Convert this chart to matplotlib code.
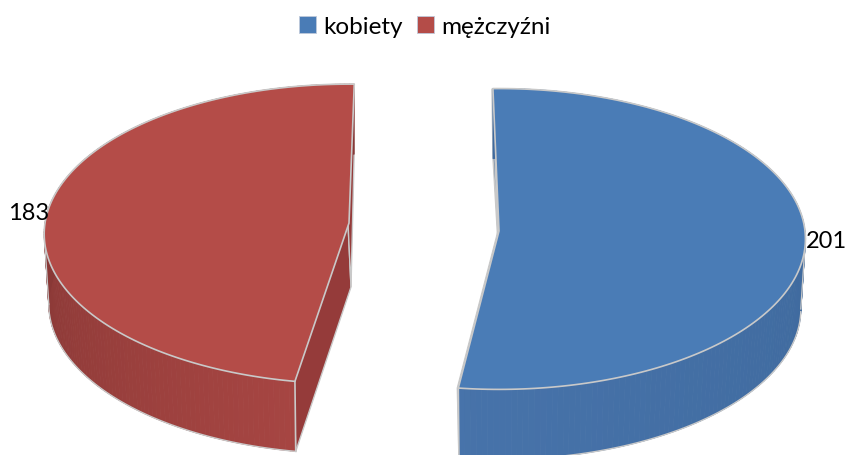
import numpy as np
import matplotlib
matplotlib.use("Agg")
import matplotlib.pyplot as plt
from matplotlib.collections import PolyCollection
from matplotlib.colors import to_rgb
from matplotlib.patches import Patch

categories = ["kobiety", "mężczyźni"]
values = [201, 183]

TOP = {"kobiety": "#4A7CB6", "mężczyźni": "#B44C48"}
WALL_A = {"kobiety": "#3F6A9E", "mężczyźni": "#A64542"}
WALL_B = {"kobiety": "#4773AA", "mężczyźni": "#893836"}
INNER = {"kobiety": "#3C6595", "mężczyźni": "#953B3A"}
CENTER = {"kobiety": (499, 232), "mężczyźni": (349, 224)}
RX = {"kobiety": 306, "mężczyźni": 304}
RY = {"kobiety": 150, "mężczyźni": 149}
PERSP = {"kobiety": 0.053, "mężczyźni": 0.073}
START = {"kobiety": -1.2, "mężczyźni": 189.5}
DEPTH = 70
APEX_DEPTH = 64
BASE_SCALE = 0.985
EDGE = "#C9C9C9"

fig = plt.figure(figsize=(8.5, 4.56), dpi=100)
ax = fig.add_axes([0, 0, 1, 1])
ax.set_xlim(0, 850)
ax.set_ylim(456, 0)
ax.axis("off")


def rim(name, th, depth=0.0, scale=1.0):
    cx, cy = CENTER[name]
    t = np.radians(th)
    w = 1 + PERSP[name] * np.cos(t)
    return (cx + scale * RX[name] * np.sin(t) / w,
            cy + depth - RY[name] * np.cos(t) / w)


total = sum(values)
for name, val in zip(categories, values):
    a0 = START[name]
    a1 = a0 + 360 * val / total
    th = np.linspace(a0, a1, 181)
    cx, cy = CENTER[name]

    tx, ty = rim(name, th)
    bx, by = rim(name, th, DEPTH, BASE_SCALE)

    # inner cut walls
    for a in (a0, a1):
        rx0, ry0 = rim(name, a)
        rx1, ry1 = rim(name, a, DEPTH, BASE_SCALE)
        ax.fill([cx - 1, rx0 - 1, rx1, cx + 2], [cy, ry0, ry1, cy + APEX_DEPTH],
                facecolor=INNER[name], edgecolor=EDGE, lw=1.0, zorder=2)

    # outer wall as shaded strips
    quads, cols = [], []
    ca, cb = np.array(to_rgb(WALL_A[name])), np.array(to_rgb(WALL_B[name]))
    lo, hi = (90, 190) if name == "kobiety" else (190, 270)
    for i in range(len(th) - 1):
        quads.append([(tx[i], ty[i]), (tx[i + 1], ty[i + 1]),
                      (bx[i + 1], by[i + 1]), (bx[i], by[i])])
        f = np.clip((th[i] - lo) / (hi - lo), 0, 1)
        cols.append(ca + (cb - ca) * f)
    ax.add_collection(PolyCollection(quads, facecolors=cols, edgecolors=cols,
                                     linewidths=0.6, zorder=3))

    # base outline runs between the two side extremes of the base
    front = np.cos(np.radians(th)) <= -PERSP[name]
    ax.plot(bx[front], by[front], color=EDGE, lw=1.0, zorder=3.5)
    for a in (a0, a1):
        px, py = rim(name, a)
        qx, qy = rim(name, a, DEPTH, BASE_SCALE)
        if np.cos(np.radians(a)) < 0:
            ax.plot([px, qx], [py, qy], color=EDGE, lw=1.2, zorder=3.5)
    k = int(np.argmax(np.abs(tx - cx)))
    j = int(np.argmax(np.abs(bx - cx)))
    ax.plot([tx[k], bx[j]], [ty[k], by[j]], color=EDGE, lw=1.0, zorder=3.5)

    # top face
    ax.fill(np.r_[cx, tx], np.r_[cy, ty], facecolor=TOP[name],
            edgecolor=EDGE, lw=1.2, joinstyle="round", zorder=4)

# value labels
label_pos = {"kobiety": (806, 242), "mężczyźni": (8, 214)}
for name, val in zip(categories, values):
    ax.text(*label_pos[name], str(val), ha="left", va="center",
            family="Lato", fontsize=17, color="black", zorder=6)

handles = [Patch(facecolor=TOP[n], edgecolor="#BFC9DA", lw=0.6, label=n) for n in categories]
ax.legend(handles=handles, loc="upper center", bbox_to_anchor=(0.5, 1.011), ncol=2,
          frameon=False, prop={"family": "Lato", "size": 17.5},
          handlelength=0.68, handleheight=0.68, handletextpad=0.3, columnspacing=0.6)

fig.savefig("out.png", dpi=100)
